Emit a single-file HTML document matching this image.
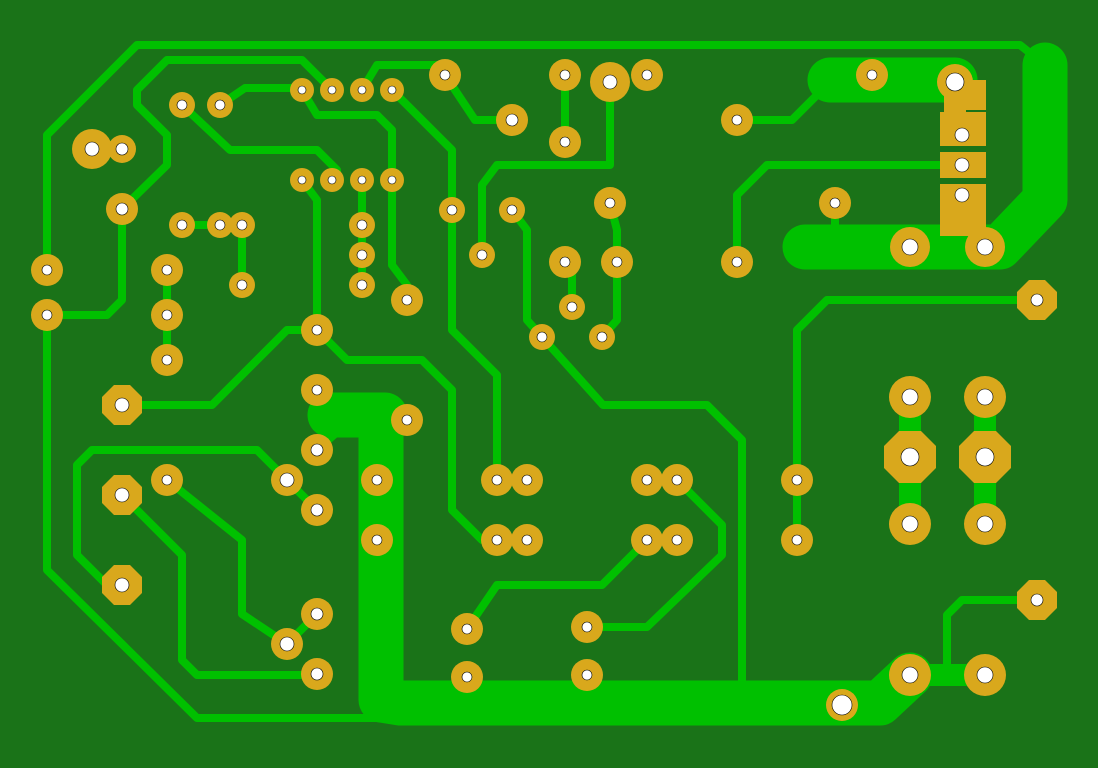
<!DOCTYPE html>
<html><head><meta charset="utf-8"><style>html,body{margin:0;padding:0;background:#1a7318}svg{display:block}</style></head>
<body>
<svg width="1098" height="768" viewBox="0 0 1098 768" xmlns="http://www.w3.org/2000/svg">
<rect width="1098" height="768" fill="#1a7318"/>
<g fill="none" stroke="#00c000" stroke-linejoin="round" stroke-linecap="round">
<g stroke-width="45">
<path d="M381,420 L381,700 L400,703 L880,703 L910,675"/>
<path d="M830,80 L955,80"/>
<path d="M1045,65 L1045,200 L1000,247 L805,247"/>
<path d="M330,415 L385,415"/>
</g>
<g stroke-width="8">
<path d="M47,270 L47,135 L137,45 L1020,45 L1045,65"/>
<path d="M47,315 L47,570 L197,718 L380,718"/>
<path d="M122,209 L167,165 L167,135 L137,105 L137,90 L167,60 L302,60 L327,85"/>
<path d="M122,209 L122,300 L107,315 L47,315"/>
<path d="M182,105 L230,150 L317,150 L337,170 L337,180"/>
<path d="M220,105 L245,88 L302,88"/>
<path d="M302,90 L317,115 L377,115 L392,130 L392,265 L407,285 L407,300"/>
<path d="M392,90 L452,150 L452,330 L497,375 L497,480"/>
<path d="M362,90 L377,65 L437,65 L445,75"/>
<path d="M445,75 L475,120 L512,120"/>
<path d="M565,75 L565,142"/>
<path d="M610,82 L610,165 L497,165 L482,185 L482,255"/>
<path d="M512,210 L527,230 L527,320 L542,337 L603,405 L707,405 L742,440 L742,690"/>
<path d="M572,307 L572,270 L565,262"/>
<path d="M610,203 L617,230 L617,320 L602,337"/>
<path d="M737,120 L792,120 L822,90"/>
<path d="M737,262 L737,195 L767,165 L947,165"/>
<path d="M302,180 L317,200 L317,330 L347,360 L422,360 L452,390 L452,510 L482,540 L497,540"/>
<path d="M362,180 L362,285"/>
<path d="M242,225 L242,285"/>
<path d="M182,225 L220,225 L242,225"/>
<path d="M167,270 L167,360"/>
<path d="M122,405 L212,405 L287,330 L317,330"/>
<path d="M287,480 L257,450 L92,450 L77,465 L77,555 L107,585 L122,585"/>
<path d="M287,480 L317,510"/>
<path d="M167,480 L242,540 L242,614 L287,644"/>
<path d="M122,495 L182,555 L182,660 L197,675 L317,675"/>
<path d="M287,644 L317,614"/>
<path d="M467,629 L497,585 L602,585 L647,540"/>
<path d="M587,627 L647,627 L722,555 L722,525 L677,480"/>
<path d="M797,480 L797,330 L827,300 L1037,300"/>
<path d="M797,480 L797,540"/>
<path d="M1037,600 L962,600 L947,615 L947,675"/>
<path d="M317,450 L345,425"/>
<path d="M835,203 L835,240"/>
</g>
<g stroke-width="22" stroke-linecap="butt">
<path d="M910,397 L910,524"/><path d="M985,397 L985,524"/><path d="M910,675 L985,675"/>
</g>
</g>
<g fill="#d9a81c">
<rect x="940" y="112" width="46" height="34"/>
<rect x="940" y="152" width="46" height="26"/>
<rect x="940" y="184" width="46" height="52"/>
<rect x="960" y="80" width="26" height="30"/>
<rect x="944" y="90" width="22" height="22"/>
<g>
<circle cx="92" cy="149" r="20"/><circle cx="122" cy="149" r="14"/><circle cx="122" cy="209" r="16"/>
<circle cx="47" cy="270" r="16"/><circle cx="47" cy="315" r="16"/>
<circle cx="182" cy="105" r="13"/><circle cx="220" cy="105" r="13"/>
<circle cx="302" cy="90" r="12"/><circle cx="332" cy="90" r="12"/><circle cx="362" cy="90" r="12"/><circle cx="392" cy="90" r="12"/>
<circle cx="445" cy="75" r="16"/><circle cx="512" cy="120" r="16"/><circle cx="565" cy="75" r="16"/><circle cx="565" cy="142" r="16"/>
<circle cx="610" cy="82" r="20"/><circle cx="647" cy="75" r="16"/><circle cx="737" cy="120" r="16"/><circle cx="872" cy="75" r="16"/>
<circle cx="955" cy="82" r="18"/>
<circle cx="302" cy="180" r="12"/><circle cx="332" cy="180" r="12"/><circle cx="362" cy="180" r="12"/><circle cx="392" cy="180" r="12"/>
<circle cx="182" cy="225" r="13"/><circle cx="220" cy="225" r="13"/><circle cx="242" cy="225" r="13"/><circle cx="242" cy="285" r="13"/>
<circle cx="167" cy="270" r="16"/><circle cx="167" cy="315" r="16"/><circle cx="167" cy="360" r="16"/>
<circle cx="362" cy="225" r="13"/><circle cx="362" cy="255" r="13"/><circle cx="362" cy="285" r="13"/>
<circle cx="407" cy="300" r="16"/><circle cx="452" cy="210" r="13"/><circle cx="482" cy="255" r="13"/><circle cx="512" cy="210" r="13"/>
<circle cx="610" cy="203" r="16"/><circle cx="565" cy="262" r="16"/><circle cx="617" cy="262" r="16"/>
<circle cx="572" cy="307" r="13"/><circle cx="602" cy="337" r="13"/><circle cx="542" cy="337" r="13"/>
<circle cx="737" cy="262" r="16"/><circle cx="835" cy="203" r="16"/>
<circle cx="910" cy="247" r="20"/><circle cx="985" cy="247" r="20"/>
<circle cx="317" cy="330" r="16"/><circle cx="317" cy="390" r="16"/><circle cx="407" cy="420" r="16"/>
<circle cx="317" cy="450" r="16"/><circle cx="287" cy="480" r="16"/><circle cx="317" cy="510" r="16"/><circle cx="167" cy="480" r="16"/>
<circle cx="377" cy="480" r="16"/><circle cx="377" cy="540" r="16"/>
<circle cx="497" cy="480" r="16"/><circle cx="527" cy="480" r="16"/><circle cx="497" cy="540" r="16"/><circle cx="527" cy="540" r="16"/>
<circle cx="647" cy="480" r="16"/><circle cx="677" cy="480" r="16"/><circle cx="647" cy="540" r="16"/><circle cx="677" cy="540" r="16"/>
<circle cx="797" cy="480" r="16"/><circle cx="797" cy="540" r="16"/>
<circle cx="910" cy="397" r="21"/><circle cx="985" cy="397" r="21"/>
<circle cx="910" cy="524" r="21"/><circle cx="985" cy="524" r="21"/>
<circle cx="317" cy="614" r="16"/><circle cx="287" cy="644" r="16"/><circle cx="317" cy="674" r="16"/>
<circle cx="467" cy="629" r="16"/><circle cx="587" cy="627" r="16"/><circle cx="467" cy="677" r="16"/><circle cx="587" cy="675" r="16"/>
<circle cx="842" cy="705" r="16"/><circle cx="910" cy="675" r="21"/><circle cx="985" cy="675" r="21"/>
</g>
<g>
<polygon points="114,385 130,385 142,397 142,413 130,425 114,425 102,413 102,397"/>
<polygon points="114,475 130,475 142,487 142,503 130,515 114,515 102,503 102,487"/>
<polygon points="114,565 130,565 142,577 142,593 130,605 114,605 102,593 102,577"/>
<polygon points="1029,280 1045,280 1057,292 1057,308 1045,320 1029,320 1017,308 1017,292"/>
<polygon points="1029,580 1045,580 1057,592 1057,608 1045,620 1029,620 1017,608 1017,592"/>
<polygon points="899,431 921,431 936,446 936,468 921,483 899,483 884,468 884,446"/>
<polygon points="974,431 996,431 1011,446 1011,468 996,483 974,483 959,468 959,446"/>
</g>
</g>
<g fill="#fff" stroke="#000" stroke-width="0.6">
<circle cx="92" cy="149" r="7"/><circle cx="122" cy="149" r="6"/><circle cx="122" cy="209" r="6"/>
<circle cx="47" cy="270" r="5"/><circle cx="47" cy="315" r="5"/>
<circle cx="182" cy="105" r="5"/><circle cx="220" cy="105" r="5"/>
<circle cx="302" cy="90" r="4"/><circle cx="332" cy="90" r="4"/><circle cx="362" cy="90" r="4"/><circle cx="392" cy="90" r="4"/>
<circle cx="445" cy="75" r="5"/><circle cx="512" cy="120" r="6"/><circle cx="565" cy="75" r="5"/><circle cx="565" cy="142" r="5"/>
<circle cx="610" cy="82" r="7"/><circle cx="647" cy="75" r="5"/><circle cx="737" cy="120" r="5"/><circle cx="872" cy="75" r="5"/>
<circle cx="955" cy="82" r="9"/><circle cx="962" cy="135" r="7"/><circle cx="962" cy="165" r="7"/><circle cx="962" cy="195" r="7"/>
<circle cx="302" cy="180" r="4"/><circle cx="332" cy="180" r="4"/><circle cx="362" cy="180" r="4"/><circle cx="392" cy="180" r="4"/>
<circle cx="182" cy="225" r="5"/><circle cx="220" cy="225" r="5"/><circle cx="242" cy="225" r="5"/><circle cx="242" cy="285" r="5"/>
<circle cx="167" cy="270" r="5"/><circle cx="167" cy="315" r="5"/><circle cx="167" cy="360" r="5"/>
<circle cx="362" cy="225" r="5"/><circle cx="362" cy="255" r="5"/><circle cx="362" cy="285" r="5"/>
<circle cx="407" cy="300" r="5"/><circle cx="452" cy="210" r="5"/><circle cx="482" cy="255" r="5"/><circle cx="512" cy="210" r="5"/>
<circle cx="610" cy="203" r="5"/><circle cx="565" cy="262" r="5"/><circle cx="617" cy="262" r="5"/>
<circle cx="572" cy="307" r="5"/><circle cx="602" cy="337" r="5"/><circle cx="542" cy="337" r="5"/>
<circle cx="737" cy="262" r="5"/><circle cx="835" cy="203" r="5"/>
<circle cx="910" cy="247" r="8"/><circle cx="985" cy="247" r="8"/>
<circle cx="317" cy="330" r="5"/><circle cx="317" cy="390" r="5"/><circle cx="407" cy="420" r="5"/>
<circle cx="317" cy="450" r="6"/><circle cx="287" cy="480" r="7"/><circle cx="317" cy="510" r="6"/><circle cx="167" cy="480" r="5"/>
<circle cx="377" cy="480" r="5"/><circle cx="377" cy="540" r="5"/>
<circle cx="497" cy="480" r="5"/><circle cx="527" cy="480" r="5"/><circle cx="497" cy="540" r="5"/><circle cx="527" cy="540" r="5"/>
<circle cx="647" cy="480" r="5"/><circle cx="677" cy="480" r="5"/><circle cx="647" cy="540" r="5"/><circle cx="677" cy="540" r="5"/>
<circle cx="797" cy="480" r="5"/><circle cx="797" cy="540" r="5"/>
<circle cx="910" cy="397" r="8"/><circle cx="985" cy="397" r="8"/>
<circle cx="910" cy="457" r="9"/><circle cx="985" cy="457" r="9"/>
<circle cx="910" cy="524" r="8"/><circle cx="985" cy="524" r="8"/>
<circle cx="122" cy="405" r="7"/><circle cx="122" cy="495" r="7"/><circle cx="122" cy="585" r="7"/>
<circle cx="1037" cy="300" r="6"/><circle cx="1037" cy="600" r="6"/>
<circle cx="317" cy="614" r="6"/><circle cx="287" cy="644" r="7"/><circle cx="317" cy="674" r="6"/>
<circle cx="467" cy="629" r="5"/><circle cx="587" cy="627" r="5"/><circle cx="467" cy="677" r="5"/><circle cx="587" cy="675" r="5"/>
<circle cx="842" cy="705" r="10"/><circle cx="910" cy="675" r="8"/><circle cx="985" cy="675" r="8"/>
</g>
</svg>
</body></html>
